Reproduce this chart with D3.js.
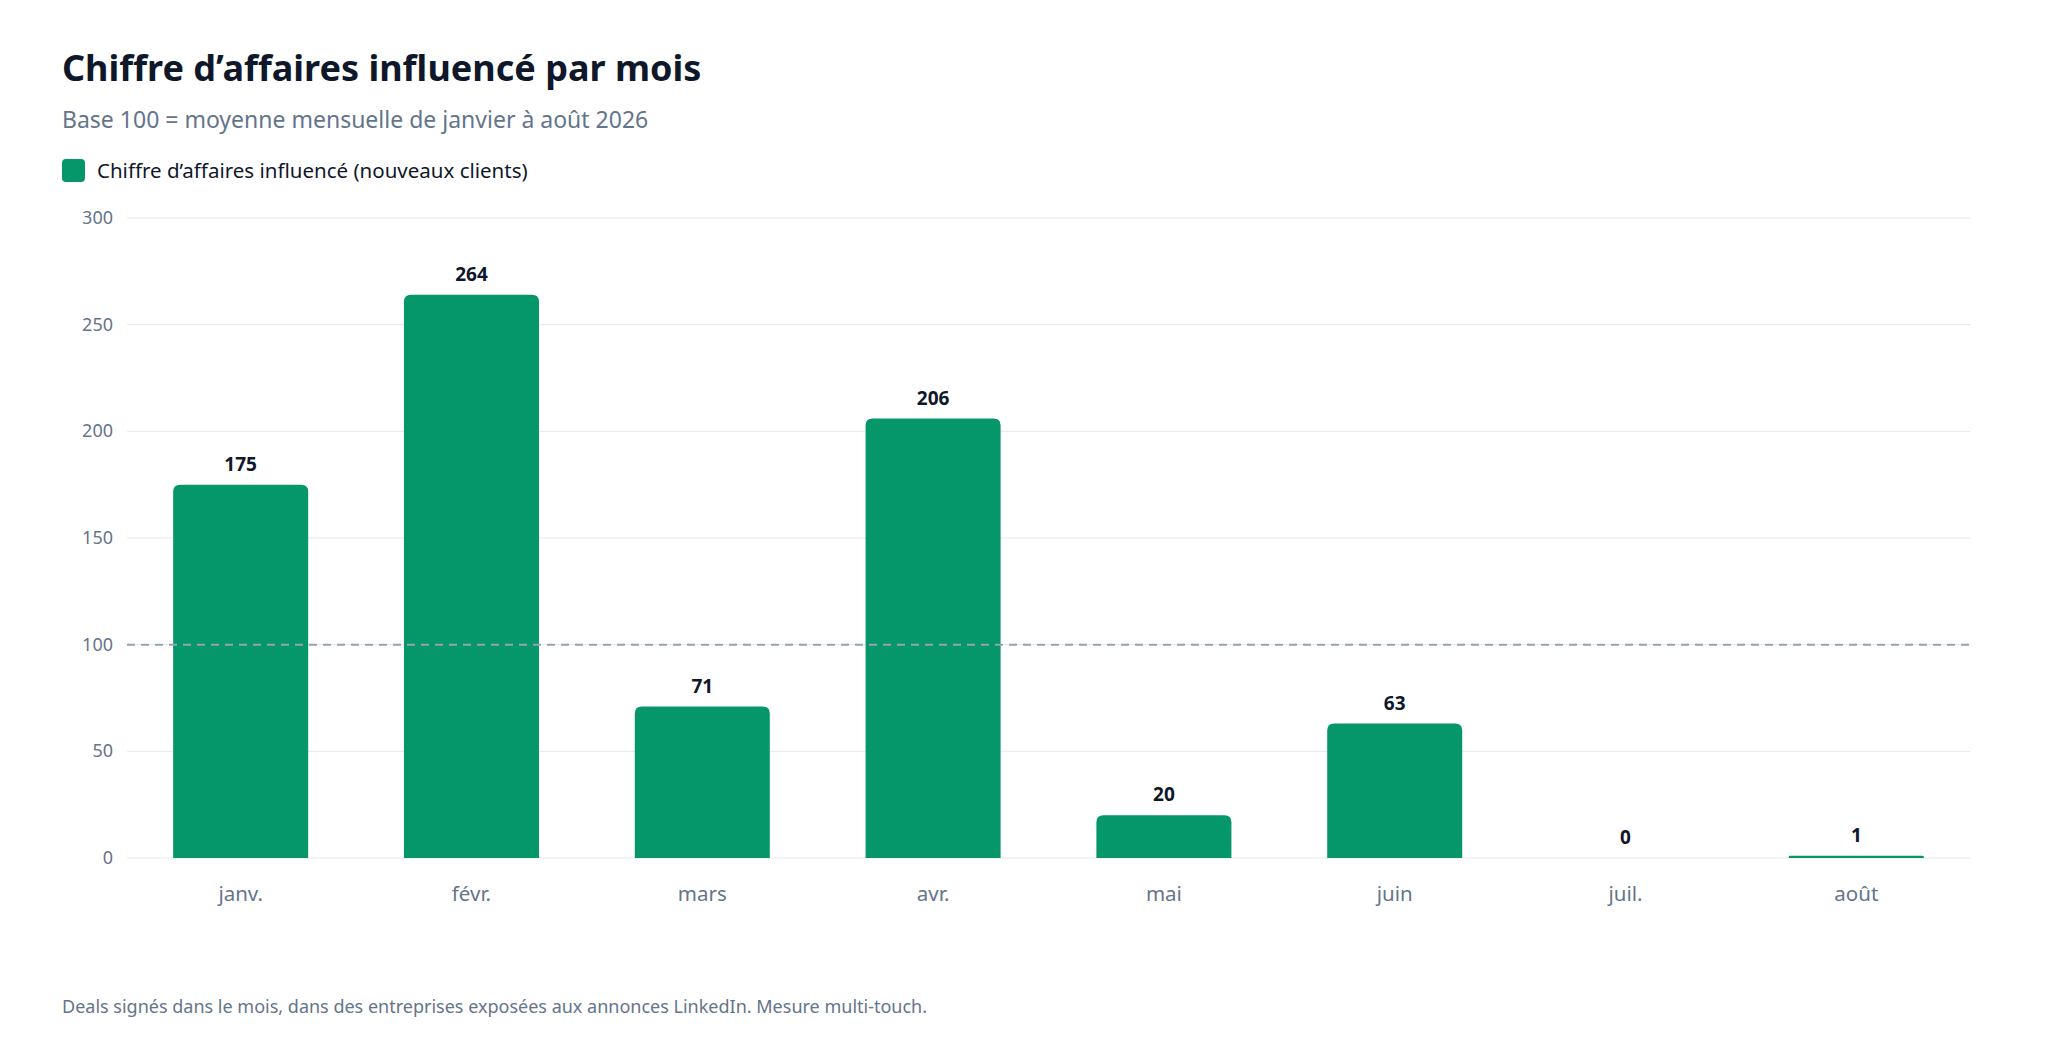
<!DOCTYPE html>
<html><head><meta charset="utf-8">
<script src="https://cdn.jsdelivr.net/npm/d3@7"></script>
<style>body{margin:0;background:#fff;font-family:"Noto Sans",sans-serif}</style>
</head><body><svg id="c" width="2048" height="1050"></svg>
<script>
const months = ["janv.","févr.","mars","avr.","mai","juin","juil.","août"];
const values = [175,264,71,206,20,63,0,1];
const yTicks = [0,50,100,150,200,250,300];
const baseline = 100;

(function(){
const svg = d3.select("#c");
const pL=127, pR=1970, pT=218, pB=858;
const x = d3.scaleBand().domain(months).range([pL,pR]).paddingInner(0.415).paddingOuter(0.2);
const y = d3.scaleLinear().domain([0,300]).range([pB,pT]);
const green="#059669";

svg.append("text").attr("x",62).attr("y",81).attr("font-size",36).attr("font-weight",700).attr("fill","#0f172a").text("Chiffre d’affaires influencé par mois");
svg.append("text").attr("x",62).attr("y",128).attr("font-size",23).attr("fill","#64748b").text("Base 100 = moyenne mensuelle de janvier à août 2026");
svg.append("rect").attr("x",62).attr("y",159).attr("width",23).attr("height",23).attr("rx",4).attr("fill",green);
svg.append("text").attr("x",97).attr("y",178).attr("font-size",20.5).attr("fill","#0f172a").text("Chiffre d’affaires influencé (nouveaux clients)");

const g = svg.append("g");
g.selectAll("line.grid").data(yTicks).join("line").attr("x1",pL).attr("x2",pR)
 .attr("y1",d=>y(d)).attr("y2",d=>y(d)).attr("stroke","#e5e7eb").attr("stroke-width",1);
g.selectAll("text.yt").data(yTicks).join("text").attr("x",113).attr("y",d=>y(d)+6)
 .attr("text-anchor","end").attr("font-size",18).attr("fill","#64748b").text(d=>d);

g.selectAll("path.bar").data(values).join("path").attr("fill",green).attr("d",(d,i)=>{
  const x0=x(months[i]), w=x.bandwidth(), y0=y(d), h=pB-y0;
  if(h<=0) return "";
  const r=Math.min(7,h/2,w/2);
  return `M${x0},${pB}V${y0+r}Q${x0},${y0} ${x0+r},${y0}H${x0+w-r}Q${x0+w},${y0} ${x0+w},${y0+r}V${pB}Z`;
});
g.append("line").attr("x1",pL).attr("x2",pR).attr("y1",y(baseline)).attr("y2",y(baseline))
 .attr("stroke","#94a3b8").attr("stroke-width",2).attr("stroke-dasharray","8,6");

g.selectAll("text.val").data(values).join("text").attr("x",(d,i)=>x(months[i])+x.bandwidth()/2)
 .attr("y",d=>y(d)-14).attr("text-anchor","middle").attr("font-size",19).attr("font-weight",700).attr("fill","#0f172a").text(d=>d);
g.selectAll("text.xt").data(months).join("text").attr("x",d=>x(d)+x.bandwidth()/2).attr("y",901)
 .attr("text-anchor","middle").attr("font-size",20.5).attr("fill","#64748b").text(d=>d);

svg.append("text").attr("x",62).attr("y",1013).attr("font-size",18).attr("fill","#64748b").text("Deals signés dans le mois, dans des entreprises exposées aux annonces LinkedIn. Mesure multi-touch.");
})();
</script></body></html>
